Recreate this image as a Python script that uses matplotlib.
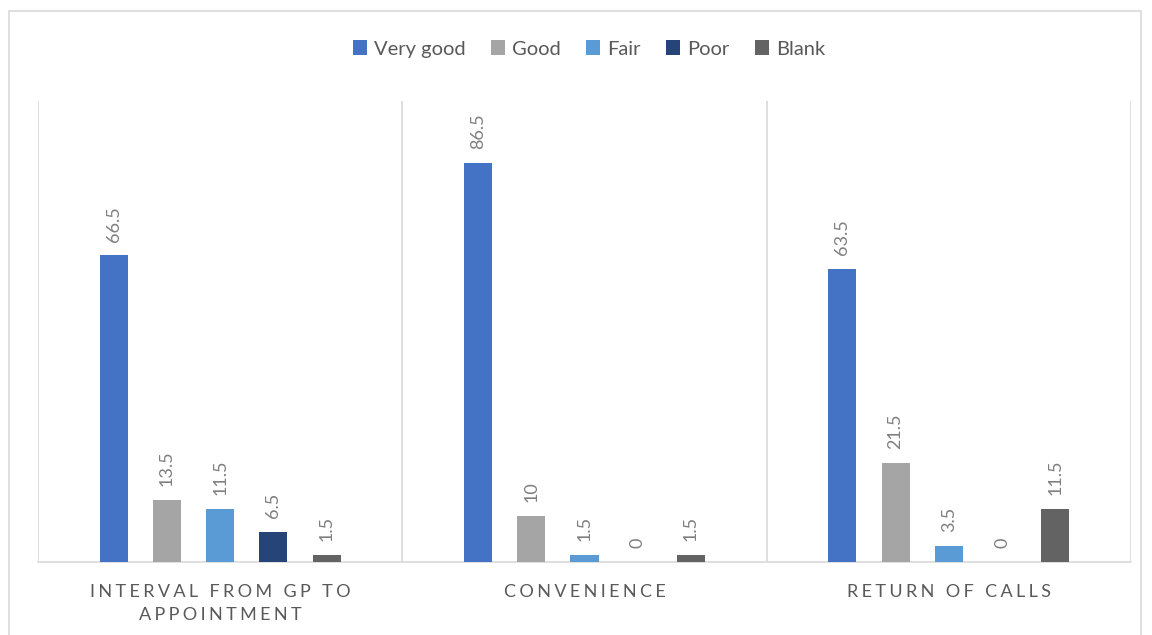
import matplotlib
matplotlib.use("Agg")
import matplotlib.pyplot as plt
from matplotlib.patches import Rectangle
import numpy as np

categories = ["INTERVAL FROM GP TO\nAPPOINTMENT", "CONVENIENCE", "RETURN OF CALLS"]
series_names = ["Very good", "Good", "Fair", "Poor", "Blank"]
very_good = [66.5, 86.5, 63.5]
good = [13.5, 10, 21.5]
fair = [11.5, 1.5, 3.5]
poor = [6.5, 0, 0]
blank = [1.5, 1.5, 11.5]
series_values = [very_good, good, fair, poor, blank]
colors = ["#4472C4", "#A5A5A5", "#5B9BD5", "#264478", "#636363"]

plt.rcParams['font.family'] = ['Lato', 'DejaVu Sans']

fig = plt.figure(figsize=(11.52, 6.35), dpi=100)
W, H = 1152, 635
# plot area in pixels
x0, x1 = 38, 1131
ytop, ybot = 101, 562
ax = fig.add_axes([x0 / W, 1 - ybot / H, (x1 - x0) / W, (ybot - ytop) / H])

# outer chart border
fig.patches.append(Rectangle((9 / W, -0.05), (1141 - 9) / W, 1 - 11 / H + 0.05,
                             transform=fig.transFigure, fill=False,
                             edgecolor="#D9D9D9", linewidth=1.2))

n = len(series_names)
step = 0.146
width = 0.077
xs = np.arange(len(categories))
for i, (name, vals, c) in enumerate(zip(series_names, series_values, colors)):
    pos = xs + (i - (n - 1) / 2) * step
    ax.bar(pos, vals, width=width, color=c, label=name, zorder=3)
    for p, v in zip(pos, vals):
        ax.annotate(f"{v:g}", (p, v), xytext=(0, 10), textcoords="offset points",
                    rotation=90, ha="center", va="bottom", fontsize=13,
                    color="#7F7F7F")

ax.set_xlim(-0.5, len(categories) - 0.5)
ax.set_ylim(0, 100)
for s in ["top", "right", "left"]:
    ax.spines[s].set_visible(False)
ax.spines["bottom"].set_color("#D9D9D9")
ax.spines["bottom"].set_linewidth(1.2)
ax.set_yticks([])
for b in np.arange(len(categories) + 1) - 0.5:
    ax.axvline(b, color="#D9D9D9", linewidth=1.2, zorder=1)


def spaced(text):
    # widen the tracking of the category names
    gap = "\u2009\u200a"
    lines = []
    for line in text.split("\n"):
        words = [gap.join(w) for w in line.split(" ")]
        lines.append((gap + " " + gap).join(words))
    return "\n".join(lines)


ax.set_xticks(xs)
ax.set_xticklabels([spaced(c) for c in categories], fontsize=13,
                   color="#595959", linespacing=1.55)
ax.tick_params(axis="x", length=0, pad=16)

handles, labels = ax.get_legend_handles_labels()
fig.legend(handles, labels, loc="center", bbox_to_anchor=(589 / W, 1 - 49 / H),
           ncol=5, frameon=False, fontsize=14.5, labelcolor="#595959",
           handlelength=0.7, handleheight=0.7, handletextpad=0.35,
           columnspacing=1.25)

fig.savefig("out.png", dpi=100, facecolor="white")
